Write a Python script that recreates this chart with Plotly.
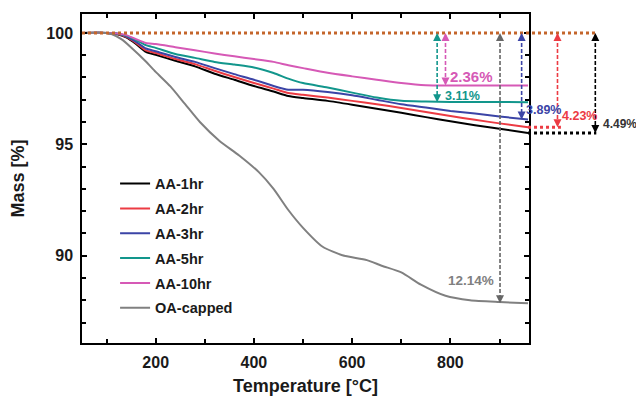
import plotly.graph_objects as go

# ---------------- data ----------------
temp = [50, 100, 120, 140, 160, 180, 200, 240, 280, 320, 360, 400, 440, 470,
        500, 550, 600, 650, 700, 750, 800, 850, 900, 958]
aa_1hr = [100, 100, 99.95, 99.80, 99.50, 99.15, 99.02, 98.75, 98.50, 98.17, 97.90, 97.62,
          97.37, 97.17, 97.08, 96.95, 96.78, 96.60, 96.42, 96.22, 96.03, 95.86, 95.70, 95.51]
aa_2hr = [100, 100, 99.96, 99.82, 99.55, 99.22, 99.10, 98.83, 98.60, 98.30, 98.02, 97.75,
          97.50, 97.30, 97.22, 97.10, 96.95, 96.80, 96.63, 96.45, 96.27, 96.10, 95.94, 95.77]
aa_3hr = [100, 100, 99.97, 99.85, 99.60, 99.30, 99.18, 98.92, 98.70, 98.42, 98.15, 97.90,
          97.62, 97.45, 97.45, 97.35, 97.20, 97.00, 96.80, 96.65, 96.50, 96.38, 96.25, 96.11]
aa_5hr = [100, 100, 99.98, 99.88, 99.68, 99.45, 99.33, 99.05, 98.88, 98.70, 98.58, 98.45,
          98.20, 97.95, 97.75, 97.55, 97.32, 97.10, 96.95, 96.92, 96.90, 96.90, 96.90, 96.89]
aa_10hr = [100, 100, 99.98, 99.90, 99.72, 99.55, 99.50, 99.36, 99.22, 99.08, 98.95, 98.83,
           98.70, 98.55, 98.42, 98.21, 98.05, 97.90, 97.75, 97.65, 97.64, 97.64, 97.64, 97.64]

temp_oa = [50, 100, 110, 130, 150, 180, 200, 230, 260, 290, 330, 370, 410, 440, 470,
           500, 540, 580, 630, 660, 700, 740, 790, 840, 900, 958]
oa_capped = [100, 100, 99.95, 99.72, 99.35, 98.72, 98.25, 97.60, 96.80, 96.00, 95.15, 94.50,
             93.75, 93.00, 92.05, 91.25, 90.40, 90.02, 89.80, 89.55, 89.25, 88.70, 88.20,
             88.00, 87.92, 87.86]

names = ["AA-1hr", "AA-2hr", "AA-3hr", "AA-5hr", "AA-10hr", "OA-capped"]
colors = ["#000000", "#ec3b43", "#3b44a6", "#12968c", "#d659b6", "#808080"]
series = [aa_1hr, aa_2hr, aa_3hr, aa_5hr, aa_10hr, oa_capped]
xs = [temp, temp, temp, temp, temp, temp_oa]

# arrow positions (temperature) for each loss marker
arrow_t = {"AA-5hr": 773, "AA-10hr": 790, "OA-capped": 901, "AA-3hr": 945,
           "AA-2hr": 1018, "AA-1hr": 1095}

XR = [50, 960]
YR = [86.08, 100.85]

def xp(t):
    return (t - XR[0]) / (XR[1] - XR[0])

def yp(m):
    return (m - YR[0]) / (YR[1] - YR[0])

FONT = "Liberation Sans, Arial, sans-serif"

fig = go.Figure()
for n, c, x, y in zip(names, colors, xs, series):
    fig.add_trace(go.Scatter(x=x, y=y, mode="lines", name=n, legendgroup=n,
                             line=dict(color=c, width=2, shape="spline", smoothing=0.6)))

shapes = []
annotations = []

# top reference dotted line at 100 %
shapes.append(dict(type="line", xref="paper", yref="paper", x0=0, x1=xp(1097),
                   y0=yp(100), y1=yp(100), line=dict(color="#c4652b", width=3, dash="dot")))
# extension dotted lines for AA-2hr and AA-1hr
shapes.append(dict(type="line", xref="paper", yref="paper", x0=xp(958), x1=xp(1025),
                   y0=yp(aa_2hr[-1]), y1=yp(aa_2hr[-1]),
                   line=dict(color="#ec3b43", width=3, dash="dot")))
shapes.append(dict(type="line", xref="paper", yref="paper", x0=xp(958), x1=xp(1097),
                   y0=yp(aa_1hr[-1]), y1=yp(aa_1hr[-1]),
                   line=dict(color="#000000", width=3, dash="dot")))

arrow_colors = {"AA-1hr": "#000000", "AA-2hr": "#ec3b43", "AA-3hr": "#3b44a6",
                "AA-5hr": "#12968c", "AA-10hr": "#d659b6", "OA-capped": "#666666"}
for n, y in zip(names, series):
    t = arrow_t[n]
    lvl = y[-1]
    c = arrow_colors[n]
    shapes.append(dict(type="line", xref="paper", yref="paper", x0=xp(t), x1=xp(t),
                       y0=yp(100) - 0.012, y1=yp(lvl) + 0.012,
                       line=dict(color=c, width=1.6, dash="4px,2px")))
    for m, ay in ((100, 8), (lvl, -8)):
        annotations.append(dict(x=xp(t), y=yp(m), xref="paper", yref="paper", text="",
                                showarrow=True, ax=0, ay=ay, arrowhead=2, arrowsize=1,
                                arrowwidth=1.6, arrowcolor=c, standoff=0))

# loss labels
label_pos = {
    "AA-10hr": (797, 98.03, "left", 15, "#d659b6"),
    "AA-5hr": (787, 97.16, "left", 12.5, "#12968c"),
    "AA-3hr": (952, 96.55, "left", 12.5, "#3b44a6"),
    "AA-2hr": (1025, 96.28, "left", 12.5, "#ec3b43"),
    "AA-1hr": (1108, 95.90, "left", 12, "#333333"),
    "OA-capped": (891, 88.88, "right", 13.5, "#808080"),
}
for n, y in zip(names, series):
    t, m, anc, fs, c = label_pos[n]
    annotations.append(dict(x=xp(t), y=yp(m), xref="paper", yref="paper",
                            text=f"{100 - y[-1]:.2f}%", showarrow=False, xanchor=anc,
                            yanchor="middle", borderpad=0,
                            font=dict(family=FONT, size=fs, color=c, weight="bold")))

axis_common = dict(showline=True, linecolor="#000000", linewidth=1.5, mirror="ticks",
                   ticks="inside", ticklen=5, tickwidth=1.5, tickcolor="#000000",
                   showgrid=False, zeroline=False, automargin=False,
                   tickfont=dict(family=FONT, size=16, color="#1a1a1a", weight="bold"))

fig.update_layout(
    width=636, height=396,
    margin=dict(l=82, r=107, t=14, b=53),
    paper_bgcolor="white", plot_bgcolor="white",
    shapes=shapes, annotations=annotations,
    showlegend=True,
    legend=dict(x=0.074, y=0.533, xanchor="left", yanchor="top",
                bgcolor="rgba(0,0,0,0)", tracegroupgap=3,
                font=dict(family=FONT, size=14.5, color="#1a1a1a", weight="bold")),
    xaxis=dict(range=XR, dtick=200, tick0=0, ticklabelstandoff=4,
               minor=dict(dtick=100, ticks="inside", ticklen=4, tickwidth=1.5, tickcolor="#000000"),
               title=dict(text="Temperature [°C]", standoff=14,
                          font=dict(family=FONT, size=18, color="#1a1a1a", weight="bold")),
               **axis_common),
    yaxis=dict(range=YR, dtick=5, tick0=0, ticklabelstandoff=4,
               minor=dict(dtick=1, ticks="inside", ticklen=4, tickwidth=1.5, tickcolor="#000000"),
               title=dict(text="Mass [%]", standoff=17,
                          font=dict(family=FONT, size=18, color="#1a1a1a", weight="bold")),
               **axis_common),
)

fig.write_html("out.html", config={"displayModeBar": False},
               post_script="document.body.style.margin='0';")
